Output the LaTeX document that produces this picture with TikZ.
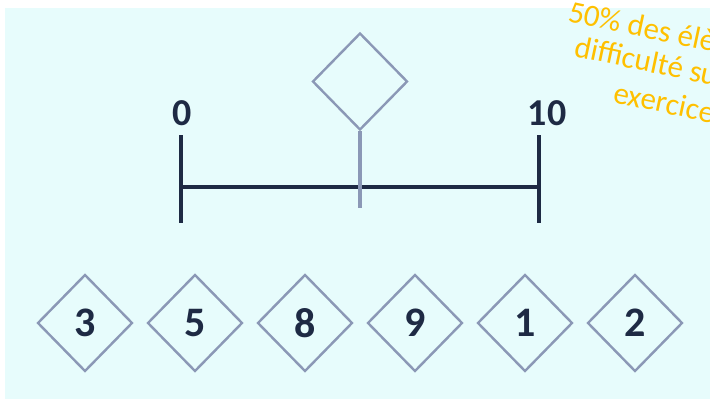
\documentclass[tikz,border=0pt]{standalone}
\usepackage{fontspec}
\setmainfont{Carlito}
\usepackage{tikz}
\usetikzlibrary{shapes.geometric}
\definecolor{lineNavy}{HTML}{1E2A44}
\definecolor{boxGrey}{HTML}{8B98B6}
\definecolor{paperCyan}{HTML}{E7FCFC}
\definecolor{noteGold}{HTML}{FFC000}

\begin{document}
\begin{tikzpicture}[x=1pt, y=-1pt,
    cell/.style={diamond, draw=boxGrey, line width=2.4pt, minimum width=95pt, minimum height=97pt, inner sep=0pt,
      text=lineNavy, font=\fontsize{42}{42}\selectfont\bfseries},
    endnum/.style={text=lineNavy, font=\fontsize{38}{38}\selectfont\bfseries, inner sep=0pt},
    axis/.style={draw=lineNavy, line width=3.4pt},
    stem/.style={draw=boxGrey, line width=3.2pt},
    note/.style={text=noteGold, font=\fontsize{31}{35}\selectfont, rotate=-12, anchor=base west, inner sep=0pt}]

  \useasboundingbox (0,0) rectangle (710,399);
  \clip (0,0) rectangle (710,399);
  \fill[paperCyan] (5,8) rectangle (710,399);

  \coordinate (lt) at (181,135);
  \coordinate (lm) at (181,187);
  \coordinate (lb) at (181,223);
  \coordinate (rt) at (539,135);
  \coordinate (rm) at (539,187);
  \coordinate (rb) at (539,223);
  \coordinate (mid) at (360,208);

  \draw[axis] (lt) -- (lb);
  \draw[axis] (rt) -- (rb);
  \draw[axis] (lm) -- (rm);

  \node[endnum] (n0)  at (182,113) {0};
  \node[endnum] (n10) at (547,113) {10};

  \node[cell] (guess) at (360,81.5) {};
  \draw[stem] (guess.south) -- (mid);

  \foreach \v [count=\i] in {3,5,8,9,1,2} {
    \node[cell] (c\i) at ({85+110*(\i-1)},323) {\v};
  }

  \node[note] (t1) at (567,21)  {50\% des élèves};
  \node[note] (t2) at (573,56)  {difficulté sur};
  \node[note] (t3) at (612,102) {exercice};
\end{tikzpicture}
\end{document}
